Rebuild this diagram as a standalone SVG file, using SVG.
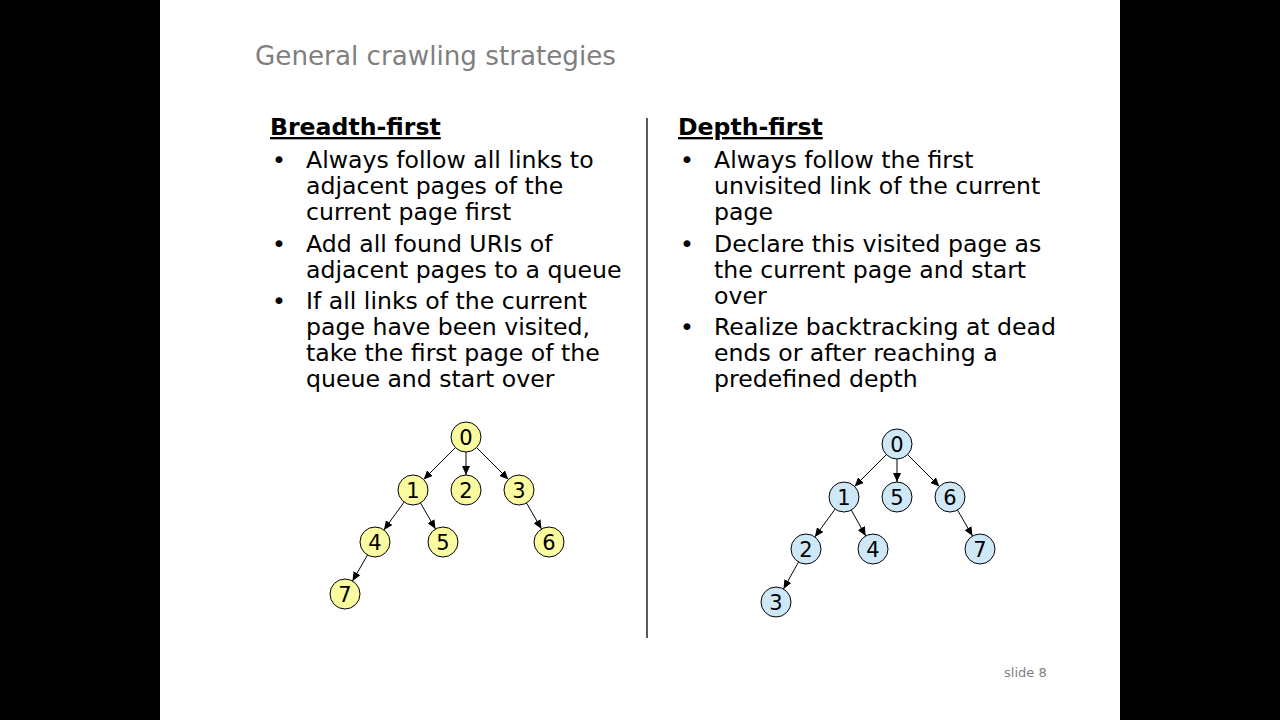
<svg xmlns="http://www.w3.org/2000/svg" width="1280" height="720" viewBox="0 0 1280 720">
<style>
text{font-family:"DejaVu Sans",Verdana,sans-serif;fill:#000}
.b{font-size:23.6px}
.h{font-size:23.6px;font-weight:bold;text-decoration:underline}
.n{font-size:21px;text-anchor:middle}
.y{fill:#fafa9e;stroke:#000;stroke-width:1}
.c{fill:#cfe8f7;stroke:#000;stroke-width:1}
.e{stroke:#000;stroke-width:1;marker-end:url(#a)}
</style>
<defs><marker id="a" markerWidth="9" markerHeight="8" refX="9" refY="4" orient="auto" markerUnits="userSpaceOnUse"><path d="M0,0L9,4L0,8z" fill="#000"/></marker></defs>
<rect width="1280" height="720" fill="#000"/>
<rect x="160" y="0" width="960" height="720" fill="#fff"/>
<text x="255" y="65" style="font-size:26.2px;fill:#7f7f7f">General crawling strategies</text>
<line x1="647" y1="118" x2="647" y2="638" stroke="#000" stroke-width="1.3"/>
<g id="left-text">
<text class="h" x="270" y="135">Breadth-first</text>
<text class="b" x="272" y="168">•</text><text class="b" x="306" y="168">Always follow all links to</text>
<text class="b" x="306" y="194">adjacent pages of the</text>
<text class="b" x="306" y="220">current page first</text>
<text class="b" x="272" y="252">•</text><text class="b" x="306" y="252">Add all found URIs of</text>
<text class="b" x="306" y="278">adjacent pages to a queue</text>
<text class="b" x="272" y="309">•</text><text class="b" x="306" y="309">If all links of the current</text>
<text class="b" x="306" y="335">page have been visited,</text>
<text class="b" x="306" y="361">take the first page of the</text>
<text class="b" x="306" y="387">queue and start over</text>
</g>
<g id="right-text">
<text class="h" x="678" y="135">Depth-first</text>
<text class="b" x="680" y="168">•</text><text class="b" x="714" y="168">Always follow the first</text>
<text class="b" x="714" y="194">unvisited link of the current</text>
<text class="b" x="714" y="220">page</text>
<text class="b" x="680" y="252">•</text><text class="b" x="714" y="252">Declare this visited page as</text>
<text class="b" x="714" y="278">the current page and start</text>
<text class="b" x="714" y="304">over</text>
<text class="b" x="680" y="335">•</text><text class="b" x="714" y="335">Realize backtracking at dead</text>
<text class="b" x="714" y="361">ends or after reaching a</text>
<text class="b" x="714" y="387">predefined depth</text>
</g>
<g id="connectors">
<line class="e" x1="455.4" y1="447.6" x2="423.6" y2="479.4"/>
<line class="e" x1="466" y1="452" x2="466" y2="475"/>
<line class="e" x1="476.6" y1="447.6" x2="508.4" y2="479.4"/>
<line class="e" x1="404.1" y1="502.1" x2="383.9" y2="529.9"/>
<line class="e" x1="420.5" y1="503" x2="435.5" y2="529"/>
<line class="e" x1="526.5" y1="503" x2="541.5" y2="529"/>
<line class="e" x1="367.5" y1="555" x2="352.5" y2="581"/>
<line class="e" x1="886.4" y1="454.6" x2="854.6" y2="486.4"/>
<line class="e" x1="897" y1="459" x2="897" y2="482"/>
<line class="e" x1="907.6" y1="454.6" x2="939.4" y2="486.4"/>
<line class="e" x1="835.1" y1="509.1" x2="814.9" y2="536.9"/>
<line class="e" x1="851.3" y1="510.1" x2="865.7" y2="535.9"/>
<line class="e" x1="957.5" y1="510" x2="972.5" y2="536"/>
<line class="e" x1="798.5" y1="562" x2="783.5" y2="589"/>
</g>
<g id="b0"><circle class="y" cx="466" cy="437" r="15"/><text class="n" x="466" y="445">0</text></g>
<g id="b1"><circle class="y" cx="413" cy="490" r="15"/><text class="n" x="413" y="498">1</text></g>
<g id="b2"><circle class="y" cx="466" cy="490" r="15"/><text class="n" x="466" y="498">2</text></g>
<g id="b3"><circle class="y" cx="519" cy="490" r="15"/><text class="n" x="519" y="498">3</text></g>
<g id="b4"><circle class="y" cx="375" cy="542" r="15"/><text class="n" x="375" y="550">4</text></g>
<g id="b5"><circle class="y" cx="443" cy="542" r="15"/><text class="n" x="443" y="550">5</text></g>
<g id="b6"><circle class="y" cx="549" cy="542" r="15"/><text class="n" x="549" y="550">6</text></g>
<g id="b7"><circle class="y" cx="345" cy="594" r="15"/><text class="n" x="345" y="602">7</text></g>
<g id="d0"><circle class="c" cx="897" cy="444" r="15"/><text class="n" x="897" y="452">0</text></g>
<g id="d1"><circle class="c" cx="844" cy="497" r="15"/><text class="n" x="844" y="505">1</text></g>
<g id="d5"><circle class="c" cx="897" cy="497" r="15"/><text class="n" x="897" y="505">5</text></g>
<g id="d6"><circle class="c" cx="950" cy="497" r="15"/><text class="n" x="950" y="505">6</text></g>
<g id="d2"><circle class="c" cx="806" cy="549" r="15"/><text class="n" x="806" y="557">2</text></g>
<g id="d4"><circle class="c" cx="873" cy="549" r="15"/><text class="n" x="873" y="557">4</text></g>
<g id="d7"><circle class="c" cx="980" cy="549" r="15"/><text class="n" x="980" y="557">7</text></g>
<g id="d3"><circle class="c" cx="776" cy="602" r="15"/><text class="n" x="776" y="610">3</text></g>
<text x="1004" y="677" style="font-size:13px;fill:#7f7f7f">slide 8</text>
</svg>
